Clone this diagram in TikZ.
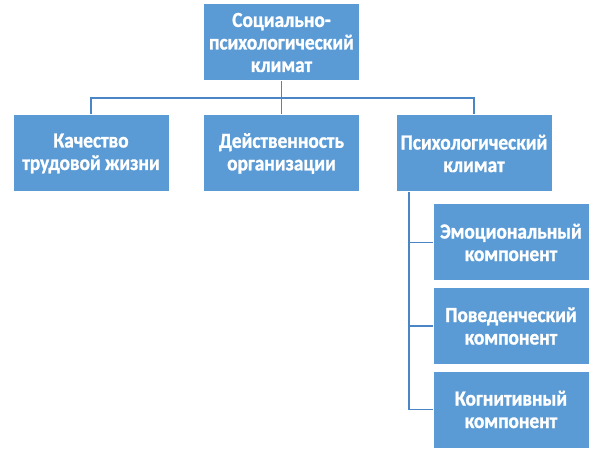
\documentclass[tikz,border=0pt]{standalone}
\usepackage{fontspec}
\setmainfont{Carlito}[FakeStretch=0.9,BoldFeatures={FakeBold=1.2}]
\usetikzlibrary{positioning}
\definecolor{boxblue}{HTML}{5B9BD5}
\definecolor{linkblue}{HTML}{4A86C5}
\tikzset{box/.style={draw=white, line width=1pt, fill=boxblue, text=white,
    font=\bfseries\fontsize{21.5}{22.5}\selectfont, align=center,
    minimum width=156pt, minimum height=77pt, inner sep=1pt}}
\tikzset{link/.style={draw=linkblue, line width=1.4pt}}

\begin{document}
\begin{tikzpicture}[x=1pt,y=-1pt]
    \useasboundingbox (0,0) rectangle (600,457);
    % upper levels
    \node[box] (climate) at (281.5,42.5) {Социально-\\психологический\\климат};
    \node[box] (quality) at (91,153.5) {Качество\\трудовой жизни};
    \node[box] (effect) at (281.5,153.5) {Действенность\\организации};
    \node[box] (psych) at (474,153.5) {Психологический\\климат};
    % components
    \node[box] (emot) at (511,242.5) {Эмоциональный\\компонент};
    \node[box] (behav) at (511,326) {Поведенческий\\компонент};
    \node[box] (cogn) at (511,409.5) {Когнитивный\\компонент};
    \coordinate (bus) at (281.5,98);
    \coordinate (spine) at (409,409.5);
    \draw[link] (climate) -- (effect);
    \draw[link] (quality.north) |- (bus) -| (psych.north);
    \draw[link] (psych.south -| spine) -- (spine);
    \draw[link] (emot.west) -- (emot.west -| spine);
    \draw[link] (behav.west) -- (behav.west -| spine);
    \draw[link] (cogn.west) -- (spine);
\end{tikzpicture}
\end{document}
